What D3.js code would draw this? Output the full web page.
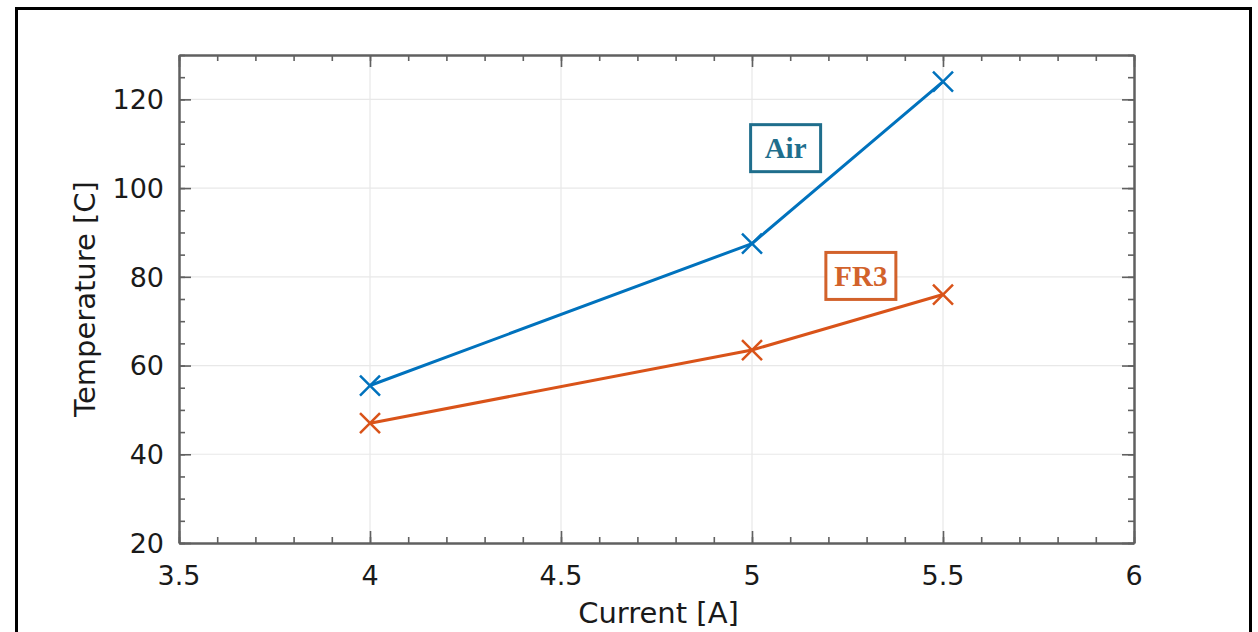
<!DOCTYPE html>
<html>
<head>
<meta charset="utf-8">
<script src="https://cdn.jsdelivr.net/npm/d3@7"></script>
<style>
  html, body { margin: 0; padding: 0; background: #fff; }
  svg { display: block; }
</style>
</head>
<body>
<div id="chart"></div>
<script>
// chart values
var current = [4, 5, 5.5];
var airTemp = [55.5, 87.5, 124];
var fr3Temp = [47, 63.5, 76];
var xTicks = [3.5, 4, 4.5, 5, 5.5, 6];
var yTicks = [20, 40, 60, 80, 100, 120];
var seriesNames = ["Air", "FR3"];

var chartWidth = 1258,
    chartHeight = 632,
    margin = {top: 55, right: 124, bottom: 89, left: 179},
    width = chartWidth - margin.left - margin.right,
    height = chartHeight - margin.top - margin.bottom;

var colors = {Air: "#0072bd", FR3: "#d95319"},
    labelColors = {Air: "#1f6e8c", FR3: "#d2622b"},
    axisColor = "#606060",
    gridColor = "#e8e8e8";

var svg = d3.select("#chart").append("svg")
    .attr("width", chartWidth)
    .attr("height", chartHeight);

// outer frame (bottom edge is cut off in the original)
svg.append("path")
    .attr("d", "M16.5,640 L16.5,8.5 L1250.5,8.5 L1250.5,640")
    .attr("fill", "none")
    .attr("stroke", "#000")
    .attr("stroke-width", 3);

var x = d3.scaleLinear().domain([3.5, 6]).range([0, width]),
    y = d3.scaleLinear().domain([20, 130]).range([height, 0]);

var g = svg.append("g")
    .attr("transform", "translate(" + margin.left + "," + margin.top + ")");

// grid
g.selectAll(".xgrid").data(xTicks.slice(1, -1)).enter().append("line")
    .attr("x1", function(d) { return x(d); }).attr("x2", function(d) { return x(d); })
    .attr("y1", 0).attr("y2", height)
    .attr("stroke", gridColor).attr("stroke-width", 1.2);
g.selectAll(".ygrid").data(yTicks.slice(1)).enter().append("line")
    .attr("x1", 0).attr("x2", width)
    .attr("y1", function(d) { return y(d); }).attr("y2", function(d) { return y(d); })
    .attr("stroke", gridColor).attr("stroke-width", 1.2);

// ticks on all four sides, pointing inward
var xMinor = d3.range(35, 61).map(function(d) { return d / 10; }),
    yMinor = d3.range(20, 131, 5);

function styleAxis(sel) {
  sel.selectAll("path").attr("stroke", axisColor).attr("stroke-width", 2);
  sel.selectAll("line").attr("stroke", axisColor).attr("stroke-width", 1.6);
  sel.selectAll("text").remove();
}

[["bottom", height], ["top", 0]].forEach(function(s) {
  var sign = s[0] === "bottom" ? -1 : 1;
  g.append("g").attr("transform", "translate(0," + s[1] + ")")
    .call(d3.axisBottom(x).tickValues(xMinor).tickSize(sign * 6).tickSizeOuter(0))
    .call(styleAxis);
  g.append("g").attr("transform", "translate(0," + s[1] + ")")
    .call(d3.axisBottom(x).tickValues(xTicks).tickSize(sign * 12).tickSizeOuter(0))
    .call(styleAxis);
});
[["left", 0], ["right", width]].forEach(function(s) {
  var sign = s[0] === "left" ? -1 : 1;
  g.append("g").attr("transform", "translate(" + s[1] + ",0)")
    .call(d3.axisLeft(y).tickValues(yMinor).tickSize(sign * 6).tickSizeOuter(0))
    .call(styleAxis);
  g.append("g").attr("transform", "translate(" + s[1] + ",0)")
    .call(d3.axisLeft(y).tickValues(yTicks).tickSize(sign * 12).tickSizeOuter(0))
    .call(styleAxis);
});

// tick labels
var tickFont = "'DejaVu Sans', sans-serif";
g.selectAll(".xlab").data(xTicks).enter().append("text")
    .attr("x", function(d) { return x(d); })
    .attr("y", height + 42)
    .attr("text-anchor", "middle")
    .attr("font-family", tickFont).attr("font-size", 27)
    .attr("fill", "#1a1a1a")
    .text(function(d) { return d; });
g.selectAll(".ylab").data(yTicks).enter().append("text")
    .attr("x", -15)
    .attr("y", function(d) { return y(d); })
    .attr("dy", "0.36em")
    .attr("text-anchor", "end")
    .attr("font-family", tickFont).attr("font-size", 27)
    .attr("fill", "#1a1a1a")
    .text(function(d) { return d; });

// axis titles
g.append("text")
    .attr("x", width / 2 + 2).attr("y", height + 80)
    .attr("text-anchor", "middle")
    .attr("font-family", tickFont).attr("font-size", 29)
    .attr("fill", "#1a1a1a")
    .text("Current [A]");
g.append("text")
    .attr("transform", "translate(-84," + height / 2 + ") rotate(-90)")
    .attr("text-anchor", "middle")
    .attr("font-family", tickFont).attr("font-size", 29)
    .attr("fill", "#1a1a1a")
    .text("Temperature [C]");

// series
var series = [
  {name: "Air", values: airTemp},
  {name: "FR3", values: fr3Temp}
];

var line = d3.line()
    .x(function(d) { return x(d[0]); })
    .y(function(d) { return y(d[1]); });

series.forEach(function(s) {
  var pts = current.map(function(c, i) { return [c, s.values[i]]; });
  g.append("path")
    .datum(pts)
    .attr("d", line)
    .attr("fill", "none")
    .attr("stroke", colors[s.name])
    .attr("stroke-width", 3)
    .attr("stroke-linejoin", "round");
  g.selectAll(".mk-" + s.name).data(pts).enter().append("path")
    .attr("d", function(d) {
      var cx = x(d[0]), cy = y(d[1]), r = 10;
      return "M" + (cx - r) + "," + (cy - r) + "L" + (cx + r) + "," + (cy + r) +
             "M" + (cx - r) + "," + (cy + r) + "L" + (cx + r) + "," + (cy - r);
    })
    .attr("stroke", colors[s.name])
    .attr("stroke-width", 2.5)
    .attr("fill", "none");
});

// boxed labels
var labelPos = {Air: [5.088, 109], FR3: [5.285, 80.2]};
seriesNames.forEach(function(name) {
  var cx = x(labelPos[name][0]), cy = y(labelPos[name][1]);
  var bw = 70, bh = 47;
  g.append("rect")
    .attr("x", cx - bw / 2).attr("y", cy - bh / 2)
    .attr("width", bw).attr("height", bh)
    .attr("fill", "#fff")
    .attr("stroke", labelColors[name])
    .attr("stroke-width", 3);
  g.append("text")
    .attr("x", cx).attr("y", cy)
    .attr("dy", "0.35em")
    .attr("text-anchor", "middle")
    .attr("font-family", "'Liberation Serif', 'Times New Roman', serif")
    .attr("font-weight", "bold")
    .attr("font-size", 29)
    .attr("fill", labelColors[name])
    .text(name);
});
</script>
</body>
</html>
